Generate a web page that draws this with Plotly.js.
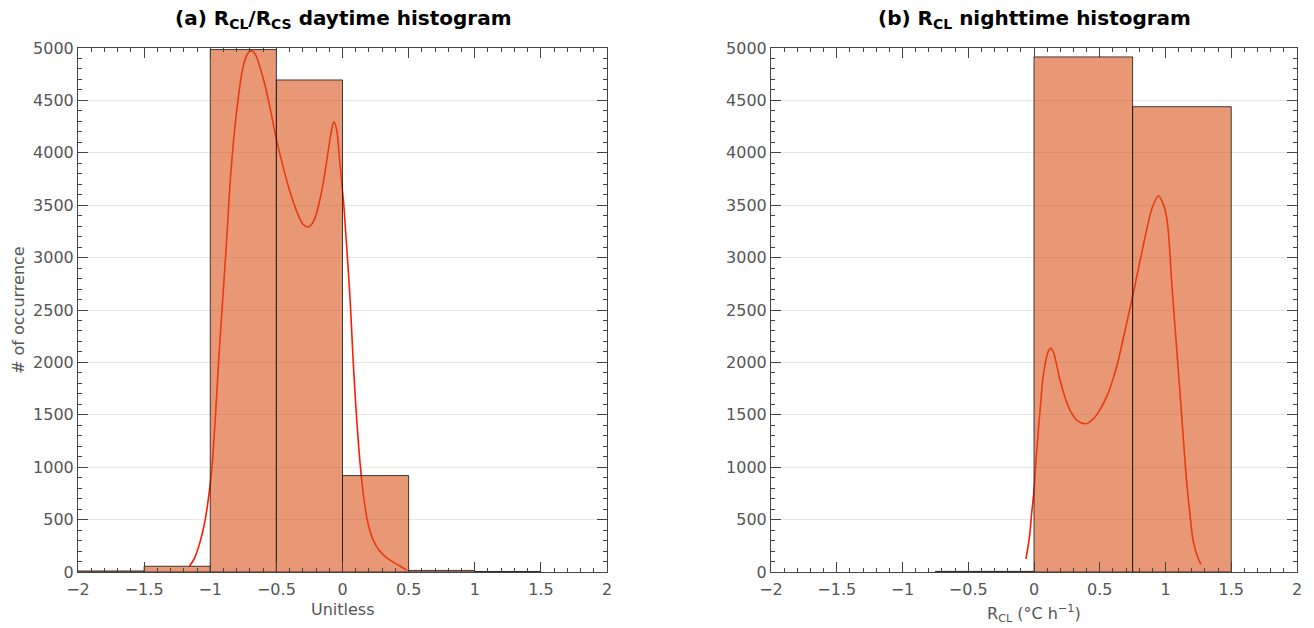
<!DOCTYPE html>
<html>
<head>
<meta charset="utf-8">
<script src="https://cdn.plot.ly/plotly-3.0.1.min.js"></script>
<style>
  html, body { margin: 0; padding: 0; background: #fff; }
  #chart { width: 1314px; height: 628px; }
</style>
</head>
<body>
<div id="chart"></div>
<script>
// Daytime R_CL/R_CS histogram: bin edges and counts
const dayEdges = [-2, -1.5, -1, -0.5, 0, 0.5, 1, 1.5];
const dayCounts = [10, 55, 4985, 4695, 920, 15, 5];

// Daytime density curve (scaled to counts)
const dayCurveX = [-1.157, -1.12, -1.089, -1.06, -1.038, -1.012, -0.987, -0.96, -0.937, -0.911, -0.89,
  -0.872, -0.845, -0.8, -0.755, -0.72, -0.689, -0.655, -0.62, -0.585, -0.545, -0.5, -0.45, -0.4, -0.343,
  -0.3, -0.256, -0.21, -0.17, -0.142, -0.11, -0.085, -0.066, -0.045, -0.025, -0.005, 0.01, 0.025, 0.04,
  0.06, 0.08, 0.105, 0.135, 0.16, 0.19, 0.23, 0.275, 0.33, 0.39, 0.45, 0.49];
const dayCurveY = [55, 130, 237, 370, 500, 720, 1000, 1500, 2000, 2500, 2900,
  3250, 3800, 4400, 4800, 4940, 4975, 4930, 4800, 4640, 4410, 4130, 3870, 3640, 3430,
  3320, 3293, 3370, 3560, 3740, 4000, 4200, 4296, 4230, 3980, 3700, 3500, 3220, 2950,
  2540, 2030, 1500, 1010, 720, 480, 310, 210, 140, 90, 45, 15];

// Nighttime R_CL histogram: bin edges and counts
const nightEdges = [-0.75, 0, 0.75, 1.5];
const nightCounts = [6, 4915, 4440];

// Nighttime density curve (scaled to counts)
const nightCurveX = [-0.061, -0.035, -0.018, 0.0, 0.015, 0.033, 0.05, 0.066, 0.09, 0.11, 0.129, 0.15,
  0.175, 0.198, 0.235, 0.274, 0.33, 0.395, 0.45, 0.502, 0.555, 0.603, 0.645, 0.679, 0.72, 0.755, 0.79,
  0.825, 0.856, 0.9, 0.947, 0.98, 1.008, 1.025, 1.046, 1.065, 1.084, 1.103, 1.122, 1.14, 1.16, 1.185,
  1.21, 1.24, 1.269];
const nightCurveY = [126, 330, 556, 778, 1060, 1351, 1600, 1829, 2020, 2110, 2138, 2090,
  1960, 1829, 1670, 1543, 1445, 1415, 1460, 1550, 1680, 1850, 2040, 2230, 2460, 2660, 2870,
  3080, 3262, 3480, 3590, 3520, 3389, 3200, 2784, 2460, 2147, 1830, 1511, 1200, 874, 560,
  301, 160, 72];

const xTickVals = [-2, -1.5, -1, -0.5, 0, 0.5, 1, 1.5, 2];
const yTickVals = [0, 500, 1000, 1500, 2000, 2500, 3000, 3500, 4000, 4500, 5000];

function centers(edges) {
  return edges.slice(0, -1).map((e, i) => (e + edges[i + 1]) / 2);
}
function widths(edges) {
  return edges.slice(0, -1).map((e, i) => edges[i + 1] - e);
}

const barFill = 'rgba(217,83,25,0.6)';
const barEdge = 'rgba(20,20,20,0.8)';
const curveColor = '#ff1a00';

const traces = [
  // curves sit on the base axes, bars on overlaid axes so the translucent bars cover them
  { type: 'scatter', mode: 'lines', x: dayCurveX, y: dayCurveY, xaxis: 'x', yaxis: 'y',
    line: { color: curveColor, width: 1.6, shape: 'spline', smoothing: 0.8 }, hoverinfo: 'skip' },
  { type: 'scatter', mode: 'lines', x: nightCurveX, y: nightCurveY, xaxis: 'x2', yaxis: 'y2',
    line: { color: curveColor, width: 1.6, shape: 'spline', smoothing: 0.8 }, hoverinfo: 'skip' },
  { type: 'bar', x: centers(dayEdges), y: dayCounts, width: widths(dayEdges), xaxis: 'x3', yaxis: 'y3',
    marker: { color: barFill, line: { color: barEdge, width: 1 } } },
  { type: 'bar', x: centers(nightEdges), y: nightCounts, width: widths(nightEdges), xaxis: 'x4', yaxis: 'y4',
    marker: { color: barFill, line: { color: barEdge, width: 1 } } }
];

const tickFont = { family: 'DejaVu Sans, sans-serif', size: 16, color: '#555555' };

function xAxis(domain, anchor) {
  return {
    domain: domain, anchor: anchor, range: [-2, 2], tickmode: 'array', tickvals: xTickVals,
    ticks: 'inside', ticklen: 10, tickwidth: 1, tickcolor: '#444',
    minor: { ticks: 'inside', ticklen: 4, dtick: 0.1, tick0: 0, tickcolor: '#444', showgrid: false },
    showline: true, linecolor: '#444', linewidth: 1, mirror: 'allticks',
    showgrid: false, zeroline: false, tickfont: tickFont, ticklabelstandoff: 3, fixedrange: true
  };
}
function yAxis(domain, anchor) {
  return {
    domain: domain, anchor: anchor, range: [0, 5000], tickmode: 'array', tickvals: yTickVals,
    ticks: 'inside', ticklen: 10, tickwidth: 1, tickcolor: '#444',
    minor: { ticks: 'inside', ticklen: 4, dtick: 100, tick0: 0, tickcolor: '#444', showgrid: false },
    showline: true, linecolor: '#444', linewidth: 1, mirror: 'allticks',
    showgrid: true, gridcolor: '#e6e6e6', gridwidth: 1, zeroline: false,
    tickfont: tickFont, ticklabelstandoff: 0, fixedrange: true
  };
}
function overlay(base, range, anchor) {
  return { overlaying: base, anchor: anchor, range: range, visible: false, fixedrange: true };
}

const W = 1314, H = 628;
const leftDom = [78 / W, 607 / W];
const rightDom = [771 / W, 1297 / W];
const yDom = [1 - 572 / H, 1 - 48 / H];

const titleFont = { family: 'DejaVu Sans, sans-serif', size: 20, color: '#000' };
const labelFont = { family: 'DejaVu Sans, sans-serif', size: 16, color: '#555555' };

const layout = {
  width: W, height: H,
  margin: { l: 0, r: 0, t: 0, b: 0 },
  paper_bgcolor: '#fff', plot_bgcolor: '#fff',
  showlegend: false, barmode: 'overlay',
  xaxis: xAxis(leftDom, 'y'),
  yaxis: yAxis(yDom, 'x'),
  xaxis2: xAxis(rightDom, 'y2'),
  yaxis2: yAxis(yDom, 'x2'),
  xaxis3: overlay('x', [-2, 2], 'y3'),
  yaxis3: overlay('y', [0, 5000], 'x3'),
  xaxis4: overlay('x2', [-2, 2], 'y4'),
  yaxis4: overlay('y2', [0, 5000], 'x4'),
  annotations: [
    { text: '<b>(a) R<sub>CL</sub>/R<sub>CS</sub> daytime histogram</b>', xref: 'paper', yref: 'paper',
      x: (leftDom[0] + leftDom[1]) / 2, y: 1 - 19 / H, xanchor: 'center', yanchor: 'middle',
      showarrow: false, font: titleFont },
    { text: '<b>(b) R<sub>CL</sub> nighttime histogram</b>', xref: 'paper', yref: 'paper',
      x: (rightDom[0] + rightDom[1]) / 2, y: 1 - 19 / H, xanchor: 'center', yanchor: 'middle',
      showarrow: false, font: titleFont },
    { text: '# of occurrence', xref: 'paper', yref: 'paper', x: 18 / W, y: 1 - 310 / H,
      xanchor: 'center', yanchor: 'middle', textangle: -90, showarrow: false, font: labelFont },
    { text: 'Unitless', xref: 'paper', yref: 'paper', x: (leftDom[0] + leftDom[1]) / 2, y: 1 - 609 / H,
      xanchor: 'center', yanchor: 'middle', showarrow: false, font: labelFont },
    { text: 'R<sub>CL</sub> (°C h<sup>−1</sup>)', xref: 'paper', yref: 'paper',
      x: (rightDom[0] + rightDom[1]) / 2, y: 1 - 613 / H, xanchor: 'center', yanchor: 'middle',
      showarrow: false, font: labelFont }
  ]
};

Plotly.newPlot('chart', traces, layout, { displayModeBar: false, staticPlot: true });
</script>
</body>
</html>
